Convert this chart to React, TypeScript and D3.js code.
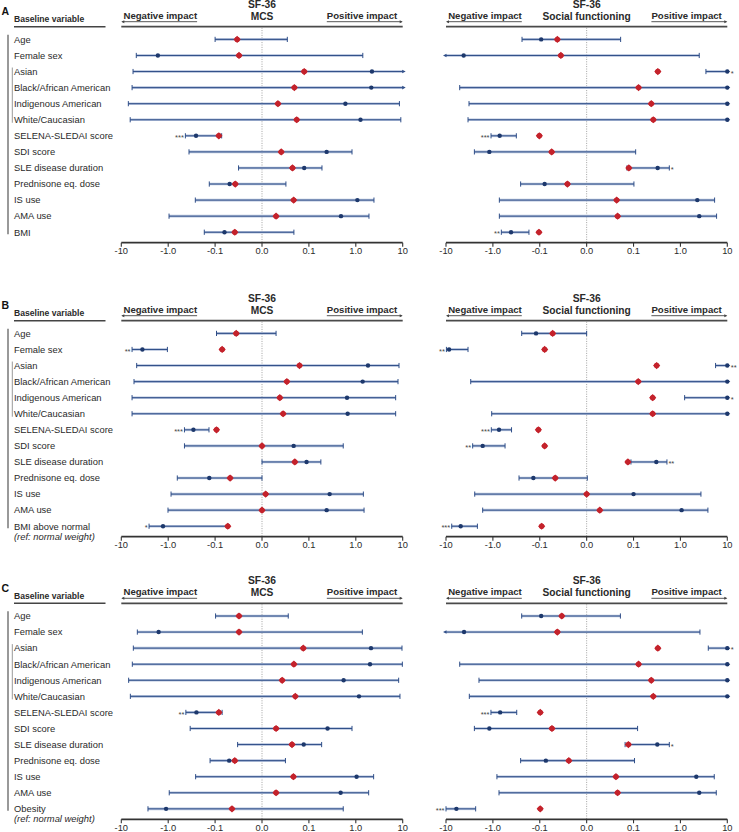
import React from "react";
import * as d3 from "d3";

// ---------- labels ----------
const baseVars = ["Age", "Female sex", "Asian", "Black/African American", "Indigenous American", "White/Caucasian", "SELENA-SLEDAI score", "SDI score", "SLE disease duration", "Prednisone eq. dose", "IS use", "AMA use"];
const lastVarA = "BMI";
const lastVarB = "BMI above normal";
const lastVarC = "Obesity";
const refNote = "(ref: normal weight)";
const tickValues = [-10, -1, -0.1, 0, 0.1, 1, 10];
const tickLabels = ["-10", "-1.0", "-0.1", "0.0", "0.1", "1.0", "10"];

// ---------- Panel A ----------
const mcsA_est = [-0.053, -1.66, 2.21, 2.14, 0.6, 1.26, -0.255, 0.239, 0.09, -0.069, 1.08, 0.483, -0.08];
const mcsA_lo = [-0.1, -4.79, -5.62, -5.89, -7.08, -6.46, -0.43, -0.36, -0.05, -0.133, -0.264, -0.96, -0.17];
const mcsA_hi = [0.054, 1.41, 15, 15, 8.51, 9.12, -0.086, 0.83, 0.19, 0.051, 2.44, 1.91, 0.068];
const mcsA_red = [-0.053, -0.049, 0.09, 0.069, 0.034, 0.074, -0.092, 0.041, 0.065, -0.057, 0.0675, 0.03, -0.058];
const mcsA_stars = ["", "", "", "", "", "", "***", "", "", "", "", "", ""];

const sfA_est = [-0.097, -4.2, 15, 15, 15, 15, -0.716, -1.19, 0.327, -0.0896, 2.29, 2.52, -0.41];
const sfA_lo = [-0.239, -15, 3.5, -5.1, -3.23, -3.39, -1.096, -2.48, 0.086, -0.256, -0.728, -0.728, -0.66];
const sfA_hi = [0.0725, 2.52, 20, 20, 20, 20, -0.316, 0.111, 0.58, 0.102, 5.36, 5.91, -0.17];
const sfA_red = [-0.0625, -0.055, 0.33, 0.128, 0.239, 0.264, -0.102, -0.0746, 0.09, -0.041, 0.064, 0.066, -0.104];
const sfA_stars = ["", "", "*", "", "", "", "***", "", "*", "", "", "", "**"];

// ---------- Panel B ----------
const mcsB_est = [-0.055, -3.55, 1.82, 1.4, 0.65, 0.67, -0.29, 0.0675, 0.095, -0.133, 0.277, 0.239, -1.29];
const mcsB_lo = [-0.097, -5.9, -4.7, -5.36, -5.9, -5.9, -0.45, -0.45, 0, -0.64, -0.87, -1.01, -2.56];
const mcsB_hi = [0.03, -1.04, 8.34, 7.94, 7.08, 7.08, -0.135, 0.54, 0.18, 0, 1.45, 1.5, -0.072];
const mcsB_red = [-0.055, -0.085, 0.08, 0.053, 0.038, 0.045, -0.097, 0, 0.07, -0.068, 0.0078, 0, -0.073];
const mcsB_stars = ["", "**", "", "", "", "", "***", "", "", "", "", "", "*"];

const sfB_est = [-0.12, -8.6, 15, 15, 15, 15, -0.74, -1.65, 0.306, -0.137, 0.1, 1.06, -4.86];
const sfB_lo = [-0.243, -9.8, 5.62, -2.97, 1.23, -1.06, -1.08, -2.7, 0.0945, -0.277, -2.44, -1.65, -7.55];
const sfB_hi = [0, -3.39, 20, 20, 20, 20, -0.4, -0.55, 0.516, 0.0014, 2.74, 3.86, -2.14];
const sfB_red = [-0.0725, -0.0896, 0.311, 0.126, 0.256, 0.256, -0.107, -0.0896, 0.088, -0.067, 0, 0.028, -0.096];
const sfB_stars = ["", "**", "**", "", "*", "", "***", "**", "**", "", "", "", "***"];

// ---------- Panel C ----------
const mcsC_est = [-0.049, -1.6, 2.11, 2.01, 0.55, 1.17, -0.25, 0.25, 0.089, -0.07, 1.04, 0.475, -1.11];
const mcsC_lo = [-0.099, -4.55, -5.54, -5.82, -6.97, -6.41, -0.42, -0.34, -0.052, -0.128, -0.26, -0.95, -2.7];
const mcsC_hi = [0.056, 1.38, 9.66, 9.82, 8.2, 8.75, -0.085, 0.83, 0.187, 0.05, 2.4, 1.88, 0.54];
const mcsC_red = [-0.049, -0.049, 0.088, 0.068, 0.043, 0.071, -0.092, 0.03, 0.064, -0.058, 0.067, 0.03, -0.064];
const mcsC_stars = ["", "", "", "", "", "", "**", "", "", "", "", "", ""];

const sfC_est = [-0.097, -4.12, 15, 15, 15, 15, -0.7, -1.19, 0.321, -0.087, 2.18, 2.52, -6.0];
const sfC_lo = [-0.243, -15, 3.93, -5.1, -1.98, -3.18, -1.1, -2.48, 0.082, -0.256, -0.82, -0.74, -10];
const sfC_hi = [0.072, 2.61, 20, 20, 20, 20, -0.31, 0.122, 0.58, 0.105, 5.27, 5.82, -2.33];
const sfC_red = [-0.053, -0.0625, 0.33, 0.128, 0.239, 0.264, -0.099, -0.074, 0.089, -0.038, 0.0625, 0.066, -0.099];
const sfC_stars = ["", "", "*", "", "", "", "***", "", "*", "", "", "", "***"];

// ---------- styling ----------
const FONT = "'Liberation Sans', Arial, sans-serif";
const TXT = "#2a2a2a";
const LINE_DARK = "#2f4e88";
const LINE_LIGHT = "#b3c1db";
const DOT = "#1d386c";
const RED = "#c4222b";
const ROW0 = 12.7;
const ROWSTEP = 16.07;
const AXIS_OFF = 216;

// symmetric log-like transform used by the axis (equal spacing per decade, linear between -0.1 and 0.1)
const tr = (v: number) => {
  const a = Math.abs(v);
  return a <= 0.1 ? v * 10 : Math.sign(v) * (Math.log10(a) + 2);
};

type Series = { est: number[]; lo: number[]; hi: number[]; red: number[]; stars: string[] };

function Arrow({ x, y, dir, color = "#444", len = 4, hw = 2 }: { x: number; y: number; dir: number; color?: string; len?: number; hw?: number }) {
  return <path d={`M${x},${y} L${x - dir * len},${y - hw} L${x - dir * len},${y + hw} Z`} fill={color} />;
}

function SubPlot({ top, x0, x1, title, s }: { top: number; x0: number; x1: number; title: string; s: Series }) {
  const lin = d3.scaleLinear().domain([-3, 3]).range([x0, x1]);
  const xs = (v: number) => lin(Math.max(-3, Math.min(3, tr(v))));
  const axisY = top + AXIS_OFF;
  const zx = xs(0);
  const rowY = (i: number) => top + ROW0 + i * ROWSTEP;
  const negW = 73.6;
  const posW = 70.4;
  return (
    <g>
      <text x={zx} y={top - 19} textAnchor="middle" fontWeight="bold" fontSize={10.3} fill={TXT}>SF-36</text>
      <text x={zx} y={top - 7.2} textAnchor="middle" fontWeight="bold" fontSize={10.2} fill={TXT}>{title}</text>
      <text x={x0 + 2.2} y={top - 7.9} fontWeight="bold" fontSize={9.6} fill={TXT}>Negative impact</text>
      <line x1={x0 + 1} x2={x0 + 2.2 + negW} y1={top - 5} y2={top - 5} stroke="#444" strokeWidth={0.9} />
      <Arrow x={x0} y={top - 5} dir={-1} len={3} hw={1.5} />
      <text x={x1 - 5.5} y={top - 7.9} textAnchor="end" fontWeight="bold" fontSize={9.6} fill={TXT}>Positive impact</text>
      <line x1={x1 - 5.5 - posW} x2={x1 - 1} y1={top - 5} y2={top - 5} stroke="#444" strokeWidth={0.9} />
      <Arrow x={x1} y={top - 5} dir={1} len={3} hw={1.5} />
      <line x1={x0} x2={x1} y1={top} y2={top} stroke="#4a4a4a" strokeWidth={1.8} />
      <line x1={zx} x2={zx} y1={top + 1} y2={axisY} stroke="#8a8a8a" strokeWidth={0.8} strokeDasharray="1 1.4" />
      {s.est.map((e, i) => {
        const y = rowY(i);
        const lo = s.lo[i];
        const hi = s.hi[i];
        const xl = xs(lo);
        const xh = xs(hi);
        const loOut = lo < -10;
        const hiOut = hi > 10;
        const xe = xs(e);
        const star = s.stars[i];
        return (
          <g key={i}>
            <line x1={xl} x2={xh} y1={y} y2={y} stroke={LINE_LIGHT} strokeWidth={2.6} />
            <line x1={xl} x2={xh} y1={y} y2={y} stroke={LINE_DARK} strokeWidth={1} />
            {!loOut && <line x1={xl} x2={xl} y1={y - 2.6} y2={y + 2.6} stroke={LINE_DARK} strokeWidth={1} />}
            {!hiOut && <line x1={xh} x2={xh} y1={y - 2.6} y2={y + 2.6} stroke={LINE_DARK} strokeWidth={1} />}
            {loOut && <Arrow x={xl - 3} y={y} dir={-1} color={LINE_DARK} len={3.5} hw={1.8} />}
            {hiOut && <Arrow x={xh + 3} y={y} dir={1} color={LINE_DARK} len={3.5} hw={1.8} />}
            <circle cx={xe} cy={y} r={2.2} fill={DOT} />
            <g transform={`translate(${xs(s.red[i])},${y})`}>
              <path d="M0,-3.6 L3.6,0 L0,3.6 L-3.6,0 Z" fill={RED} />
              <circle r={2.7} fill={RED} />
            </g>
            {star && (e < 0 ? (
              <text x={Math.min(xl, xe) - 1.5} y={y + 4.2} textAnchor="end" fontSize={7.5} fill="#444">{star}</text>
            ) : (
              <text x={Math.max(xh, xe) + (hiOut ? 3.5 : 1.5)} y={y + 4.2} fontSize={7.5} fill="#444">{star}</text>
            ))}
          </g>
        );
      })}
      <line x1={x0} x2={x1} y1={axisY} y2={axisY} stroke="#333" strokeWidth={1.8} />
      {tickValues.map((t, i) => (
        <g key={t}>
          <line x1={xs(t)} x2={xs(t)} y1={axisY} y2={axisY + 4} stroke="#333" strokeWidth={1.1} />
          <text x={xs(t)} y={axisY + 11.4} textAnchor="middle" fontSize={9.3} fill={TXT}>{tickLabels[i]}</text>
        </g>
      ))}
    </g>
  );
}

function Panel({ top, letter, lastVar, note, mcs, sf }: { top: number; letter: string; lastVar: string; note: boolean; mcs: Series; sf: Series }) {
  const vars = [...baseVars, lastVar];
  const rowY = (i: number) => top + ROW0 + i * ROWSTEP;
  return (
    <g>
      <text x={1.5} y={top - 11.5} fontWeight="bold" fontSize={10.5} fill="#111">{letter}</text>
      <text x={14} y={top - 4.3} fontWeight="bold" fontSize={8.6} fill={TXT}>Baseline variable</text>
      <line x1={14} x2={105.5} y1={top} y2={top} stroke="#444" strokeWidth={1.5} />
      <line x1={8} x2={8} y1={top + 8} y2={rowY(12) + 2} stroke="#555" strokeWidth={1.2} />
      <line x1={12.3} x2={12.3} y1={rowY(2) - 4} y2={rowY(5) + 3} stroke="#999" strokeWidth={1} />
      {vars.map((v, i) => (
        <text key={v} x={14} y={rowY(i) + 3.3} fontSize={9.4} fill={TXT}>{v}</text>
      ))}
      {note && <text x={14} y={rowY(12) + 13.5} fontSize={9.4} fontStyle="italic" fill={TXT}>{refNote}</text>}
      <SubPlot top={top} x0={121.3} x1={402.7} title="MCS" s={mcs} />
      <SubPlot top={top} x0={446} x1={727.3} title="Social functioning" s={sf} />
    </g>
  );
}

export default function App() {
  const A_m: Series = { est: mcsA_est, lo: mcsA_lo, hi: mcsA_hi, red: mcsA_red, stars: mcsA_stars };
  const A_s: Series = { est: sfA_est, lo: sfA_lo, hi: sfA_hi, red: sfA_red, stars: sfA_stars };
  const B_m: Series = { est: mcsB_est, lo: mcsB_lo, hi: mcsB_hi, red: mcsB_red, stars: mcsB_stars };
  const B_s: Series = { est: sfB_est, lo: sfB_lo, hi: sfB_hi, red: sfB_red, stars: sfB_stars };
  const C_m: Series = { est: mcsC_est, lo: mcsC_lo, hi: mcsC_hi, red: mcsC_red, stars: mcsC_stars };
  const C_s: Series = { est: sfC_est, lo: sfC_lo, hi: sfC_hi, red: sfC_red, stars: sfC_stars };
  return (
    <svg width={739} height={832} style={{ position: "absolute", left: 0, top: 0, background: "#fff" }} fontFamily={FONT}>
      <rect width={739} height={832} fill="#fff" />
      <Panel top={26.7} letter="A" lastVar={lastVarA} note={false} mcs={A_m} sf={A_s} />
      <Panel top={320.7} letter="B" lastVar={lastVarB} note={true} mcs={B_m} sf={B_s} />
      <Panel top={603.3} letter="C" lastVar={lastVarC} note={true} mcs={C_m} sf={C_s} />
    </svg>
  );
}
